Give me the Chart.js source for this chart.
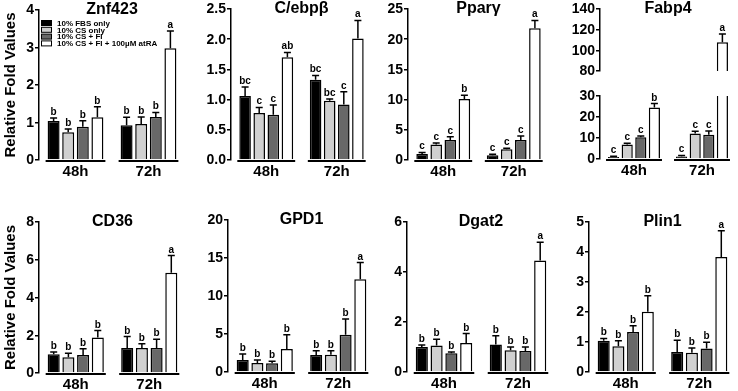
<!DOCTYPE html>
<html>
<head>
<meta charset="utf-8">
<script src="https://cdn.jsdelivr.net/npm/chart.js@4.4.1/dist/chart.umd.min.js"></script>
<style>
  body { margin: 0; background: #fff; width: 738px; height: 391px; position: relative; overflow: hidden; }
  canvas { position: absolute; }
</style>
</head>
<body>
<script>
// Slots along the x axis: a blank slot before, between and after the two groups
const slots = ['', 'FBS', 'CS', 'CS+FI', 'CS+FI+atRA', '', 'FBS', 'CS', 'CS+FI', 'CS+FI+atRA', ''];
const groupLabels = ['48h', '72h'];
const legendLabels = ['10% FBS only', '10% CS only', '10% CS + FI', '10% CS + FI + 100\u00b5M atRA'];
const barColors = ['#000000', '#d0d0d0', '#686868', '#ffffff'];

// Values: 4 bars at 48h then 4 bars at 72h
const znf423Mean = [1.04, 0.74, 0.89, 1.14, 0.93, 0.96, 1.15, 2.98];
const znf423Err = [0.08, 0.09, 0.16, 0.28, 0.21, 0.19, 0.12, 0.46];
const znf423Letters = ['b', 'b', 'b', 'b', 'b', 'b', 'b', 'a'];

const cebpbMean = [1.06, 0.78, 0.75, 1.70, 1.33, 0.98, 0.92, 2.01];
const cebpbErr = [0.15, 0.09, 0.16, 0.08, 0.07, 0.03, 0.21, 0.30];
const cebpbLetters = ['bc', 'c', 'c', 'ab', 'bc', 'bc', 'c', 'a'];

const ppargMean = [1.0, 2.55, 3.33, 10.1, 0.78, 1.78, 3.33, 21.8];
const ppargErr = [0.25, 0.28, 0.5, 0.6, 0.16, 0.16, 0.65, 1.3];
const ppargLetters = ['c', 'c', 'c', 'b', 'c', 'c', 'c', 'a'];

const fabp4Mean = [1.0, 6.9, 10.4, 24.5, 1.2, 12.2, 11.6, 107.9];
const fabp4Err = [0.3, 0.6, 0.6, 1.9, 0.5, 1.0, 1.7, 8.0];
const fabp4Letters = ['c', 'c', 'c', 'b', 'c', 'c', 'c', 'a'];

const cd36Mean = [1.0, 0.84, 0.95, 1.88, 1.32, 1.32, 1.32, 5.31];
const cd36Err = [0.11, 0.2, 0.33, 0.37, 0.61, 0.23, 0.47, 0.91];
const cd36Letters = ['b', 'b', 'b', 'b', 'b', 'b', 'b', 'a'];

const gpd1Mean = [1.58, 1.18, 1.14, 3.02, 2.23, 2.28, 4.9, 12.2];
const gpd1Err = [0.78, 0.4, 0.26, 1.88, 0.57, 0.52, 2.06, 2.2];
const gpd1Letters = ['b', 'b', 'b', 'b', 'b', 'b', 'b', 'a'];

const dgat2Mean = [1.0, 1.06, 0.75, 1.16, 1.10, 0.87, 0.84, 4.46];
const dgat2Err = [0.08, 0.25, 0.05, 0.38, 0.35, 0.13, 0.16, 0.73];
const dgat2Letters = ['b', 'b', 'b', 'b', 'b', 'b', 'b', 'a'];

const plin1Mean = [1.04, 0.86, 1.33, 2.01, 0.67, 0.64, 0.78, 3.83];
const plin1Err = [0.08, 0.18, 0.21, 0.53, 0.39, 0.16, 0.21, 0.88];
const plin1Letters = ['b', 'b', 'b', 'b', 'b', 'b', 'b', 'a'];

// Panel layout: cell = [x, y, w, h] on the page, area = [axis x, right x, top y, zero y] on the page
const panels = [
  { title: 'Znf423', mean: znf423Mean, err: znf423Err, letters: znf423Letters, max: 4, step: 1,
    cell: [0, 0, 190, 195], area: [39, 185, 10, 160], yTitle: true, legend: true },
  { title: 'C/ebp\u03b2', mean: cebpbMean, err: cebpbErr, letters: cebpbLetters, max: 2.5, step: 0.5, decimals: 1,
    cell: [190, 0, 185, 195], area: [231, 372, 9, 160] },
  { title: 'Ppar\u03b3', mean: ppargMean, err: ppargErr, letters: ppargLetters, max: 25, step: 5,
    cell: [375, 0, 185, 195], area: [408, 549, 9, 160] },
  { title: 'Fabp4', mean: fabp4Mean, err: fabp4Err, letters: fabp4Letters, max: 30, step: 10,
    cell: [560, 0, 178, 195], area: [600, 736, 9, 159],
    broken: { highMin: 80, highMax: 140, highStep: 20, weights: [62, 25, 63] } },
  { title: 'CD36', mean: cd36Mean, err: cd36Err, letters: cd36Letters, max: 8, step: 2,
    cell: [0, 195, 190, 196], area: [39, 186, 222, 373], yTitle: true },
  { title: 'GPD1', mean: gpd1Mean, err: gpd1Err, letters: gpd1Letters, max: 20, step: 5,
    cell: [190, 195, 188, 196], area: [228, 375, 220, 372] },
  { title: 'Dgat2', mean: dgat2Mean, err: dgat2Err, letters: dgat2Letters, max: 6, step: 2,
    cell: [378, 195, 187, 196], area: [407, 555, 222, 372] },
  { title: 'Plin1', mean: plin1Mean, err: plin1Err, letters: plin1Letters, max: 5, step: 1,
    cell: [565, 195, 173, 196], area: [589, 736, 222, 372] }
];

const FONT = '"Liberation Sans", Arial, sans-serif';
Chart.defaults.font.family = FONT;
Chart.defaults.color = '#000';

const toSlots = (arr) => [null, ...arr.slice(0, 4), null, ...arr.slice(4), null];
const barSlots = slots.map((s, i) => (s ? i : -1)).filter((i) => i >= 0);

// Clips each dataset of the broken axis to its own y range
const splitClip = {
  id: 'splitClip',
  beforeDatasetDraw(chart, args) {
    const s = chart.scales[chart.data.datasets[args.index].yAxisID];
    const ctx = chart.ctx;
    ctx.save();
    ctx.beginPath();
    ctx.rect(chart.chartArea.left, s.top, chart.chartArea.width, s.bottom - s.top);
    ctx.clip();
  },
  afterDatasetDraw(chart) {
    chart.ctx.restore();
  }
};

// Tick labels, error bars, letters, group underlines, title and legend
function decor(p) {
  return {
    id: 'decor',
    afterDraw(chart) {
      const ctx = chart.ctx;
      const bars = chart.getDatasetMeta(0).data;
      const yLow = chart.scales.y;
      ctx.save();
      ctx.strokeStyle = '#000';
      ctx.fillStyle = '#000';

      // y tick labels, taken from the scales' own ticks
      ['y', 'yTop'].forEach((id) => {
        const s = chart.scales[id];
        if (!s) return;
        ctx.font = 'bold 14px ' + FONT;
        ctx.textAlign = 'right';
        ctx.textBaseline = 'middle';
        s.ticks.forEach((t) => {
          const label = p.decimals && id === 'y' ? t.value.toFixed(p.decimals) : String(t.value);
          ctx.fillText(label, s.right - 5, s.getPixelForValue(t.value) + 0.5);
        });
      });

      p.mean.forEach((m, k) => {
        const bar = bars[barSlots[k]];
        const ys = p.broken && m > p.max ? chart.scales.yTop : yLow;
        const top = ys.getPixelForValue(m);
        const cap = ys.getPixelForValue(m + p.err[k]);
        ctx.lineWidth = 1.5;
        ctx.beginPath();
        ctx.moveTo(bar.x, top);
        ctx.lineTo(bar.x, cap);
        ctx.moveTo(bar.x - 3.5, cap);
        ctx.lineTo(bar.x + 3.5, cap);
        ctx.stroke();
        ctx.font = 'bold 10px ' + FONT;
        ctx.textAlign = 'center';
        ctx.textBaseline = 'alphabetic';
        ctx.fillText(p.letters[k], bar.x, cap - 3);
      });

      const zero = yLow.getPixelForValue(0) + 1;
      groupLabels.forEach((g, gi) => {
        const first = bars[barSlots[gi * 4]];
        const last = bars[barSlots[gi * 4 + 3]];
        const x0 = first.x - first.width / 2 - 2;
        const x1 = last.x + last.width / 2 + 2;
        ctx.lineWidth = 2;
        ctx.beginPath();
        ctx.moveTo(x0, zero);
        ctx.lineTo(x1, zero);
        ctx.stroke();
        ctx.font = 'bold 15px ' + FONT;
        ctx.textAlign = 'center';
        ctx.textBaseline = 'top';
        ctx.fillText(g, (x0 + x1) / 2, zero + 3);
      });

      const fb = bars[barSlots[0]], lb = bars[barSlots[7]];
      ctx.font = 'bold 16px ' + FONT;
      ctx.textAlign = 'center';
      ctx.textBaseline = 'middle';
      ctx.fillText(p.title, (fb.x + lb.x) / 2, chart.chartArea.top);

      if (p.legend) {
        const lx = chart.chartArea.left + 2;
        ctx.font = 'bold 8px ' + FONT;
        ctx.textAlign = 'left';
        legendLabels.forEach((t, i) => {
          const ly = chart.chartArea.top + 13 + i * 6.8;
          ctx.fillStyle = barColors[i];
          ctx.fillRect(lx, ly - 2.5, 11, 5);
          ctx.lineWidth = 1;
          ctx.strokeRect(lx + 0.5, ly - 2.5, 10, 5);
          ctx.fillStyle = '#000';
          ctx.fillText(t, lx + 16, ly + 0.5);
        });
      }
      ctx.restore();
    }
  };
}

function tickOpts(step) {
  // labels are painted by the decor plugin from these same ticks
  return { display: false, autoSkip: false, stepSize: step };
}

function yAxis(width, extra) {
  return Object.assign({
    position: 'left',
    stacked: false,
    afterFit: (s) => { s.width = width; },
    border: { display: true, color: '#000', width: 1.5 },
    grid: { display: true, drawOnChartArea: false, drawTicks: true, tickLength: 4, color: '#000', lineWidth: 1.5 }
  }, extra);
}

panels.forEach((p) => {
  const [cx, cy, cw, ch] = p.cell;
  const [axisX, rightX, topY, zeroY] = p.area;
  const canvas = document.createElement('canvas');
  canvas.width = cw;
  canvas.height = ch;
  canvas.style.left = cx + 'px';
  canvas.style.top = cy + 'px';
  document.body.appendChild(canvas);

  const yWidth = axisX - cx;
  const fills = toSlots([...barColors, ...barColors]);
  const barStyle = { backgroundColor: fills, borderColor: '#000', borderWidth: 1.5, barPercentage: 0.82, categoryPercentage: 1, stack: 'bars' };
  const datasets = [Object.assign({ data: toSlots(p.mean), yAxisID: 'y' }, barStyle)];

  const y = yAxis(yWidth, {
    min: 0, max: p.max,
    ticks: tickOpts(p.step),
    title: { display: !!p.yTitle, text: 'Relative Fold Values', color: '#000', font: { size: 15, weight: 'bold' }, padding: { top: 2, bottom: 0 } }
  });
  const scales = {
    x: { type: 'category', offset: false, display: false, grid: { offset: false } },
    y
  };
  const plugins = [decor(p)];

  if (p.broken) {
    const b = p.broken;
    datasets.push(Object.assign({ data: toSlots(p.mean.map((v) => (v >= b.highMin ? v : null))), yAxisID: 'yTop' }, barStyle));
    Object.assign(y, { stack: 'split', stackWeight: b.weights[2], weight: 0 });
    scales.yGap = yAxis(yWidth, {
      min: p.max, max: b.highMin, stack: 'split', stackWeight: b.weights[1], weight: 1,
      border: { display: false }, grid: { display: false }, ticks: { display: false }
    });
    scales.yTop = yAxis(yWidth, {
      min: b.highMin, max: b.highMax, stack: 'split', stackWeight: b.weights[0], weight: 2,
      ticks: tickOpts(b.highStep)
    });
    plugins.push(splitClip);
  }

  new Chart(canvas, {
    type: 'bar',
    data: { labels: slots, datasets },
    options: {
      responsive: false,
      animation: false,
      devicePixelRatio: 1,
      layout: { padding: { left: 0, right: cx + cw - rightX, top: topY - cy, bottom: cy + ch - zeroY } },
      plugins: { legend: { display: false }, tooltip: { enabled: false } },
      scales
    },
    plugins
  });
});
</script>
</body>
</html>
